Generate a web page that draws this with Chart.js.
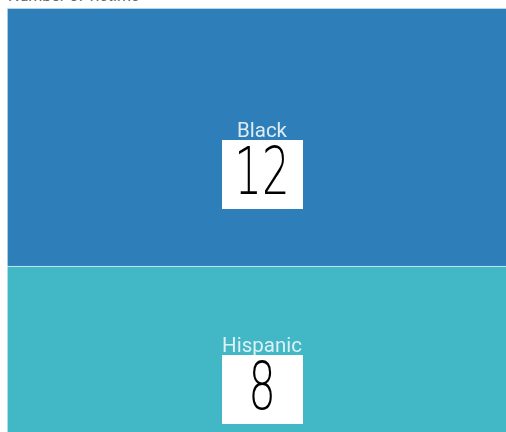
<!DOCTYPE html>
<html>
<head>
<meta charset="utf-8">
<script src="https://cdn.jsdelivr.net/npm/chart.js@4/dist/chart.umd.min.js"></script>
<style>
  html, body { margin: 0; padding: 0; background: #ffffff; overflow: hidden; }
  #heading { position: absolute; left: 8px; top: -12px; margin: 0; font: 16px/16px Roboto, sans-serif; color: #666; white-space: nowrap; }
  #wrap { position: absolute; left: 7px; top: 8px; width: 510px; height: 430px; }
</style>
</head>
<body>
<p id="heading">Number of victims</p>
<div id="wrap"><canvas id="c"></canvas></div>
<script>
// Groups and their counts, stacked from the bottom up
const groups = ['Hispanic', 'Black'];
const counts = [8, 12];
const fills = ['#42b7c5', '#2e7fb9'];

// Writes each group's name and a boxed count in the middle of its block
const blockLabels = {
  id: 'blockLabels',
  afterDatasetsDraw(chart) {
    const ctx = chart.ctx;
    chart.data.datasets.forEach((ds, i) => {
      const el = chart.getDatasetMeta(i).data[0];
      if (!el) return;
      const cx = el.x;
      const cy = (el.y + el.base) / 2;
      ctx.save();
      ctx.fillStyle = 'rgba(235,245,250,0.92)';
      ctx.font = '20.5px Roboto, sans-serif';
      ctx.textAlign = 'center';
      ctx.textBaseline = 'middle';
      ctx.fillText(ds.label, cx, cy - 5.5);
      const bw = 81, bh = 69;
      const top = cy + 2.5;
      ctx.fillStyle = '#ffffff';
      ctx.fillRect(Math.round(cx - bw / 2), Math.round(top), bw, bh);
      ctx.translate(cx, top + bh / 2 + 3);
      ctx.scale(0.66, 1);
      ctx.fillStyle = '#000000';
      ctx.font = '300 66px "DejaVu Sans", sans-serif';
      ctx.fillText(String(ds.data[0]), 0, 0);
      ctx.restore();
    });
  }
};

new Chart(document.getElementById('c'), {
  type: 'bar',
  data: {
    labels: ['All'],
    datasets: groups.map((g, i) => ({
      label: g,
      data: [counts[i]],
      backgroundColor: fills[i],
      borderColor: 'rgba(225,240,245,0.85)',
      borderWidth: { top: 1, left: 1 },
      borderSkipped: false,
      barPercentage: 1,
      categoryPercentage: 1
    }))
  },
  options: {
    responsive: true,
    maintainAspectRatio: false,
    animation: false,
    layout: { padding: 0 },
    plugins: { legend: { display: false }, tooltip: { enabled: false }, title: { display: false } },
    scales: {
      x: { display: false, stacked: true, offset: true, grid: { display: false } },
      y: { display: false, stacked: true, min: 0, max: 20, grid: { display: false } }
    }
  },
  plugins: [blockLabels]
});
</script>
</body>
</html>
